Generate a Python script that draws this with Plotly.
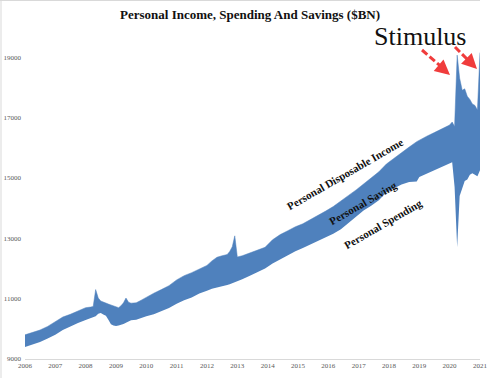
import plotly.graph_objects as go

# ---- data ($BN) ----
dates = [
    "2006-01-01", "2006-04-01", "2006-07-01", "2006-10-01",
    "2007-01-01", "2007-04-01", "2007-07-01", "2007-10-01",
    "2008-01-01", "2008-03-01", "2008-04-01", "2008-05-01", "2008-06-01", "2008-07-01",
    "2008-08-01", "2008-09-01", "2008-10-01", "2008-11-01", "2008-12-01",
    "2009-01-01", "2009-02-01", "2009-03-01", "2009-04-01", "2009-05-01", "2009-06-01",
    "2009-07-01", "2009-09-01", "2009-11-01",
    "2010-01-01", "2010-04-01", "2010-07-01", "2010-10-01",
    "2011-01-01", "2011-04-01", "2011-07-01", "2011-10-01",
    "2012-01-01", "2012-03-01", "2012-05-01", "2012-07-01", "2012-09-01", "2012-10-01",
    "2012-11-01", "2012-12-01",
    "2013-01-01", "2013-03-01", "2013-06-01", "2013-09-01", "2013-12-01",
    "2014-03-01", "2014-06-01", "2014-09-01", "2014-12-01",
    "2015-03-01", "2015-06-01", "2015-09-01", "2015-12-01",
    "2016-03-01", "2016-06-01", "2016-09-01", "2016-12-01",
    "2017-03-01", "2017-06-01", "2017-09-01", "2017-12-01",
    "2018-03-01", "2018-06-01", "2018-09-01", "2018-12-01",
    "2019-01-01", "2019-04-01", "2019-07-01", "2019-10-01",
    "2020-01-01", "2020-02-01", "2020-03-01", "2020-04-01", "2020-05-01", "2020-06-01",
    "2020-07-01", "2020-08-01", "2020-09-01", "2020-10-01", "2020-11-01", "2020-12-01",
    "2021-01-01",
]

disposable_income = [
    9800, 9870, 9960, 10080,
    10230, 10390, 10480, 10580,
    10700, 10720, 10740, 11300, 11020, 10920,
    10880, 10860, 10820, 10790, 10760,
    10720, 10700, 10760, 10860, 11020, 10880,
    10850, 10860, 10950,
    11050, 11180, 11300, 11430,
    11620, 11760, 11860, 11980,
    12100, 12250, 12370, 12420, 12460, 12560,
    12720, 13080,
    12380, 12420, 12520, 12600, 12700,
    12950, 13120, 13250, 13380,
    13480, 13620, 13740, 13900,
    14050, 14250, 14420, 14600,
    14800, 15020, 15200, 15460,
    15650, 15850, 16020, 16200,
    16250, 16380, 16500, 16620,
    16750, 16850, 16700, 19066, 18300, 17900,
    17950, 17700, 17600, 17450, 17400, 17250,
    19150,
]

personal_spending = [
    9400, 9470, 9560, 9680,
    9800, 9960, 10080, 10190,
    10290, 10350, 10380, 10420, 10500, 10520,
    10470, 10430, 10300, 10150, 10110,
    10090, 10110, 10130, 10160, 10200, 10250,
    10280, 10300, 10360,
    10420, 10480, 10580, 10690,
    10830, 10950, 11040, 11170,
    11260, 11330, 11370, 11400, 11450, 11480,
    11510, 11540,
    11580, 11640, 11760, 11870, 12000,
    12160, 12300, 12450, 12570,
    12680, 12800, 12920, 13050,
    13150, 13300, 13500, 13720,
    13920, 14080, 14260, 14520,
    14660, 14780, 14860, 14880,
    15030, 15140, 15260, 15370,
    15490, 15520, 14700, 12700, 14400, 14700,
    14900, 14950, 15100, 15150, 15100, 15050,
    15250,
]

year_ticks = [str(y) for y in range(2006, 2022)]
y_ticks = [9000, 11000, 13000, 15000, 17000, 19000]
y_tick_labels = [str(v) for v in y_ticks]

# ---- layout geometry ----
W, H = 500, 378
ML, MR, MT, MB = 25, 20, 39, 19
PW, PH = W - ML - MR, H - MT - MB


def px(x):
    return (x - ML) / PW


def py(y):
    return (H - MB - y) / PH


BLUE = "#4f81bd"
RED = "#f03c3c"
SERIF = "Liberation Serif"

fig = go.Figure()
fig.add_trace(go.Scatter(
    x=dates, y=personal_spending, mode="lines",
    line=dict(width=0, color=BLUE), hoverinfo="skip", showlegend=False,
))
fig.add_trace(go.Scatter(
    x=dates, y=disposable_income, mode="lines", fill="tonexty",
    fillcolor=BLUE, line=dict(width=0.5, color=BLUE),
    hoverinfo="skip", showlegend=False,
))


def label(text, x, y, size, angle=0, bold=False):
    return dict(text=f"<b>{text}</b>" if bold else text,
                xref="paper", yref="paper", x=px(x), y=py(y),
                xanchor="center", yanchor="middle", textangle=angle,
                showarrow=False,
                font=dict(family=SERIF, size=size, color="#111111"))


annotations = [
    label("Personal Income, Spending And Savings ($BN)", 250, 14, 13, bold=True),
    label("Stimulus", 420, 37, 26),
    label("Personal Disposable Income", 345, 174, 11, angle=-30, bold=True),
    label("Personal Saving", 363, 203, 11, angle=-30, bold=True),
    label("Personal Spending", 383, 224, 11, angle=-30, bold=True),
    # arrow heads
    dict(text="", xref="paper", yref="paper", x=px(450), y=py(75),
         ax=-7, ay=-6, showarrow=True, arrowhead=2, arrowsize=1,
         arrowwidth=3, arrowcolor=RED),
    dict(text="", xref="paper", yref="paper", x=px(477), y=py(69),
         ax=-7, ay=-7, showarrow=True, arrowhead=2, arrowsize=1,
         arrowwidth=3, arrowcolor=RED),
]

shapes = [
    dict(type="line", xref="paper", yref="paper", x0=px(422), y0=py(50),
         x1=px(445), y1=py(70), line=dict(color=RED, width=3, dash="7px,3px")),
    dict(type="line", xref="paper", yref="paper", x0=px(455), y0=py(47),
         x1=px(472), y1=py(64), line=dict(color=RED, width=3, dash="7px,3px")),
    # outer frame lines
    dict(type="line", xref="paper", yref="paper", x0=px(0), y0=py(0.5),
         x1=px(480), y1=py(0.5), line=dict(color="#d9d9d9", width=1)),
    dict(type="line", xref="paper", yref="paper", x0=px(1), y0=py(0),
         x1=px(1), y1=py(378), line=dict(color="#d9d9d9", width=1)),
]

fig.update_layout(
    width=W, height=H,
    margin=dict(l=ML, r=MR, t=MT, b=MB, autoexpand=False),
    paper_bgcolor="white", plot_bgcolor="white",
    showlegend=False,
    annotations=annotations,
    shapes=shapes,
    xaxis=dict(
        type="date", range=["2006-01-01", "2021-01-01"],
        tickvals=[f"{y}-01-01" for y in year_ticks], ticktext=year_ticks,
        showgrid=False, zeroline=False,
        showline=True, linecolor="#d9d9d9", linewidth=1,
        ticks="", tickfont=dict(family=SERIF, size=7, color="#595959"),
    ),
    yaxis=dict(
        range=[9000, 19600], tickvals=y_ticks, ticktext=y_tick_labels,
        showgrid=False, zeroline=False, showline=False, ticks="",
        tickfont=dict(family=SERIF, size=7, color="#595959"),
        ticklabelstandoff=3,
    ),
)

fig.write_html(
    "out.html",
    config={"displayModeBar": False},
    post_script="document.body.style.margin='0px';document.body.style.padding='0px';",
)
